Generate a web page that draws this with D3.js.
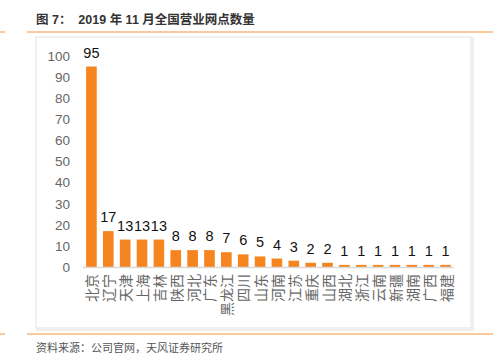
<!DOCTYPE html>
<html><head><meta charset="utf-8">
<script src="https://cdn.jsdelivr.net/npm/d3@7"></script>
<style>body{margin:0;background:#fff;}svg{display:block;}</style>
</head><body>
<script>
const categories = ["北京","辽宁","天津","上海","吉林","陕西","河北","广东","黑龙江","四川","山东","河南","江苏","重庆","山西","湖北","浙江","云南","新疆","湖南","广西","福建"];
const values = [95,17,13,13,13,8,8,8,7,6,5,4,3,2,2,1,1,1,1,1,1,1];
const yTicks = [0,10,20,30,40,50,60,70,80,90,100];
const title = "图 7：  2019 年 11 月全国营业网点数量";
const source = "资料来源：公司官网，天风证券研究所";

const W = 502, H = 363;
const svg = d3.select("body").append("svg").attr("width", W).attr("height", H);
const font = "'Liberation Sans', Arial, 'Noto Sans CJK SC', sans-serif";
const cjk = "'Noto Sans CJK SC', sans-serif";

// Title
svg.append("text").attr("x", 36).attr("y", 24).attr("font-family", font)
  .attr("font-size", 12.5).attr("font-weight", "bold").attr("fill", "#333")
  .attr("xml:space", "preserve").text(title);

// Orange rules
const rule = "#f9b87c";
[[0,5,32],[27,493,32],[0,5,334],[27,493,334]].forEach(([x1,x2,yy]) => {
  svg.append("line").attr("x1", x1).attr("x2", x2).attr("y1", yy).attr("y2", yy)
    .attr("stroke", rule).attr("stroke-width", 1.5);
});

// Chart box with soft shadow
svg.append("rect").attr("x", 37).attr("y", 38).attr("width", 436).attr("height", 292)
  .attr("fill", "none").attr("stroke", "#eeeeee").attr("stroke-width", 2);
svg.append("rect").attr("x", 36).attr("y", 37).attr("width", 435).attr("height", 291)
  .attr("fill", "#fff").attr("stroke", "#e2e2e2").attr("stroke-width", 1);

// Source
svg.append("text").attr("x", 36).attr("y", 352).attr("font-family", cjk)
  .attr("font-size", 11).attr("fill", "#555").text(source);

// Scales
const x = d3.scaleBand().domain(categories).range([83, 454]).paddingInner(0.37).paddingOuter(0.185);
const y = d3.scaleLinear().domain([0, 100]).range([267, 56]);

// Y axis labels
const yAxis = d3.axisLeft(y).tickValues(yTicks).tickSize(0).tickPadding(0);
const gy = svg.append("g").attr("transform", "translate(70,0)").call(yAxis);
gy.select(".domain").remove();
gy.selectAll("text").attr("font-family", font).attr("font-size", 13.5).attr("fill", "#666");

// Bars
svg.append("g").selectAll("rect").data(values).join("rect")
  .attr("x", (d, i) => x(categories[i]))
  .attr("y", d => y(d))
  .attr("width", x.bandwidth())
  .attr("height", d => y(0) - y(d))
  .attr("fill", "#f6841f");

// Baseline
svg.append("line").attr("x1", 83).attr("x2", 454).attr("y1", y(0) + 0.5).attr("y2", y(0) + 0.5)
  .attr("stroke", "#d9d9d9").attr("stroke-width", 1.5);

// Value labels
svg.append("g").selectAll("text").data(values).join("text")
  .attr("x", (d, i) => x(categories[i]) + x.bandwidth() / 2)
  .attr("y", d => y(d) - 9)
  .attr("text-anchor", "middle").attr("font-family", font).attr("font-size", 14.5)
  .attr("fill", "#111").text(d => d);

// X labels (rotated -90, reading bottom to top)
const xAxis = d3.axisBottom(x).tickSize(0).tickPadding(0);
const gx = svg.append("g").attr("transform", `translate(0,${y(0)})`).call(xAxis);
gx.select(".domain").remove();
gx.selectAll("text")
  .attr("font-family", cjk).attr("font-size", 14).attr("fill", "#666")
  .attr("text-anchor", "end").attr("dy", null).attr("y", 0).attr("x", 0)
  .attr("dominant-baseline", "central")
  .attr("transform", "translate(0,7) rotate(-90)");
</script>
</body></html>
